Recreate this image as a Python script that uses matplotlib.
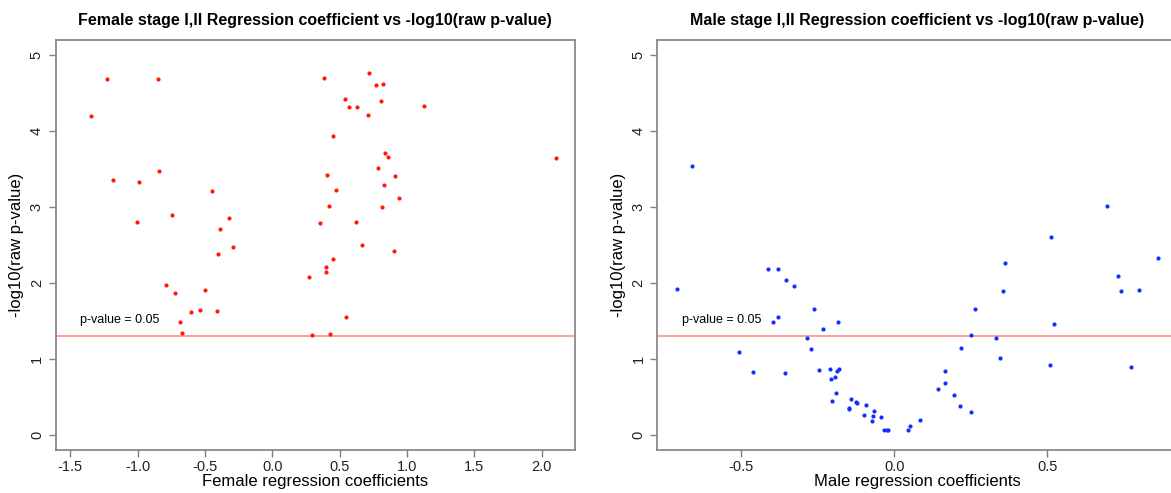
import matplotlib
matplotlib.use("Agg")
import matplotlib.pyplot as plt
import numpy as np

plt.rcParams['font.family'] = ['Liberation Sans', 'DejaVu Sans']

# female stage I,II: regression coefficient, -log10(raw p)
female_coef = [-1.345, -1.226, -0.846, -1.184, -0.987, -0.838, -0.447, -0.743,
               -1.004, -0.321, -0.388, -0.294, -0.403, -0.791, -0.724, -0.497,
               -0.603, -0.536, -0.412, -0.687, -0.672,
               0.386, 0.448, 0.406, 0.475, 0.421, 0.356, 0.453, 0.401, 0.401,
               0.272, 0.297, 0.426, 0.717, 0.772, 0.821, 0.542, 0.567, 0.628,
               0.806, 0.712, 1.123, 0.834, 0.858, 2.102, 0.782, 0.908, 0.826,
               0.940, 0.814, 0.623, 0.665, 0.903, 0.549]
female_logp = [4.205, 4.684, 4.688, 3.352, 3.335, 3.480, 3.207, 2.891,
               2.808, 2.860, 2.706, 2.469, 2.386, 1.968, 1.867, 1.902,
               1.612, 1.648, 1.635, 1.490, 1.335,
               4.706, 3.937, 3.427, 3.220, 3.013, 2.790, 2.315, 2.205, 2.140,
               2.078, 1.309, 1.326, 4.763, 4.609, 4.614, 4.420, 4.315, 4.319,
               4.398, 4.209, 4.337, 3.708, 3.664, 3.642, 3.520, 3.414, 3.296,
               3.124, 2.996, 2.808, 2.500, 2.420, 1.546]

# male stage I,II
male_coef = [-0.660, -0.709, -0.412, -0.381, -0.355, -0.327, -0.263, -0.395,
             -0.378, -0.232, -0.184, -0.285, -0.272, -0.507, -0.460, -0.357,
             -0.245, -0.211, -0.179, -0.187, -0.205, -0.193, -0.191, -0.204,
             -0.142, -0.148, -0.148, -0.126, -0.120, -0.093, -0.099, -0.066,
             -0.069, -0.071, -0.042, -0.032, -0.025, -0.021,
             0.045, 0.053, 0.083, 0.142, 0.166, 0.167, 0.197, 0.215, 0.251,
             0.218, 0.251, 0.264, 0.333, 0.347, 0.356, 0.521, 0.510, 0.774,
             0.742, 0.800, 0.696, 0.513, 0.363, 0.863, 0.732]
male_logp = [3.540, 1.915, 2.187, 2.182, 2.037, 1.963, 1.655, 1.484,
             1.550, 1.388, 1.480, 1.269, 1.128, 1.094, 0.821, 0.817,
             0.860, 0.865, 0.865, 0.838, 0.729, 0.759, 0.553, 0.439,
             0.469, 0.356, 0.343, 0.426, 0.417, 0.390, 0.264, 0.311,
             0.245, 0.184, 0.232, 0.070, 0.057, 0.057,
             0.057, 0.119, 0.198, 0.606, 0.676, 0.844, 0.518, 0.382, 0.307,
             1.137, 1.309, 1.661, 1.273, 1.015, 1.893, 1.463, 0.923, 0.891,
             1.898, 1.902, 3.013, 2.605, 2.258, 2.327, 2.095]

cutoff = -np.log10(0.05)

fig = plt.figure(figsize=(11.71, 4.93), dpi=100)
W, H = 1171, 493

panels = [
    dict(x=female_coef, y=female_logp, color='#ff1a0a', box=(55.7, 40, 575, 450),
         xlim=(-1.607, 2.246), xticks=[-1.5, -1.0, -0.5, 0.0, 0.5, 1.0, 1.5, 2.0],
         title='Female stage I,II Regression coefficient vs -log10(raw p-value)',
         xlabel='Female regression coefficients', tx=-1.427),
    dict(x=male_coef, y=male_logp, color='#1030ff', box=(657.3, 40, 1176.6, 450),
         xlim=(-0.774, 0.923), xticks=[-0.5, 0.0, 0.5],
         title='Male stage I,II Regression coefficient vs -log10(raw p-value)',
         xlabel='Male regression coefficients', tx=-0.693),
]

for p in panels:
    l, t, r, b = p['box']
    ax = fig.add_axes([l / W, 1 - b / H, (r - l) / W, (b - t) / H])
    ax.scatter(p['x'], p['y'], s=9, color=p['color'], linewidths=0, zorder=3)
    ax.axhline(cutoff, color='#ff9f95', lw=1.4, zorder=2)
    ax.text(p['tx'], 1.507, 'p-value = 0.05', fontsize=9, va='center', ha='left')
    ax.set_xlim(*p['xlim'])
    ax.set_ylim(-0.2, 5.2)
    ax.set_xticks(p['xticks'])
    ax.set_xticklabels([f'{v:.1f}' for v in p['xticks']])
    ax.set_yticks(range(6))
    ax.set_yticklabels([str(v) for v in range(6)], rotation=90, va='center')
    for s in ax.spines.values():
        s.set_color('#808080')
        s.set_linewidth(1.2)
    ax.tick_params(colors='#808080', labelcolor='#222222', length=5, width=1,
                   labelsize=10.5)
    ax.tick_params(axis='x', pad=2)
    ax.set_title(p['title'], fontsize=11.5, fontweight='bold', pad=11)
    ax.set_xlabel(p['xlabel'], fontsize=12, labelpad=0)
    ax.set_ylabel('-log10(raw p-value)', fontsize=12, labelpad=4)

fig.savefig('out.png', dpi=100)
